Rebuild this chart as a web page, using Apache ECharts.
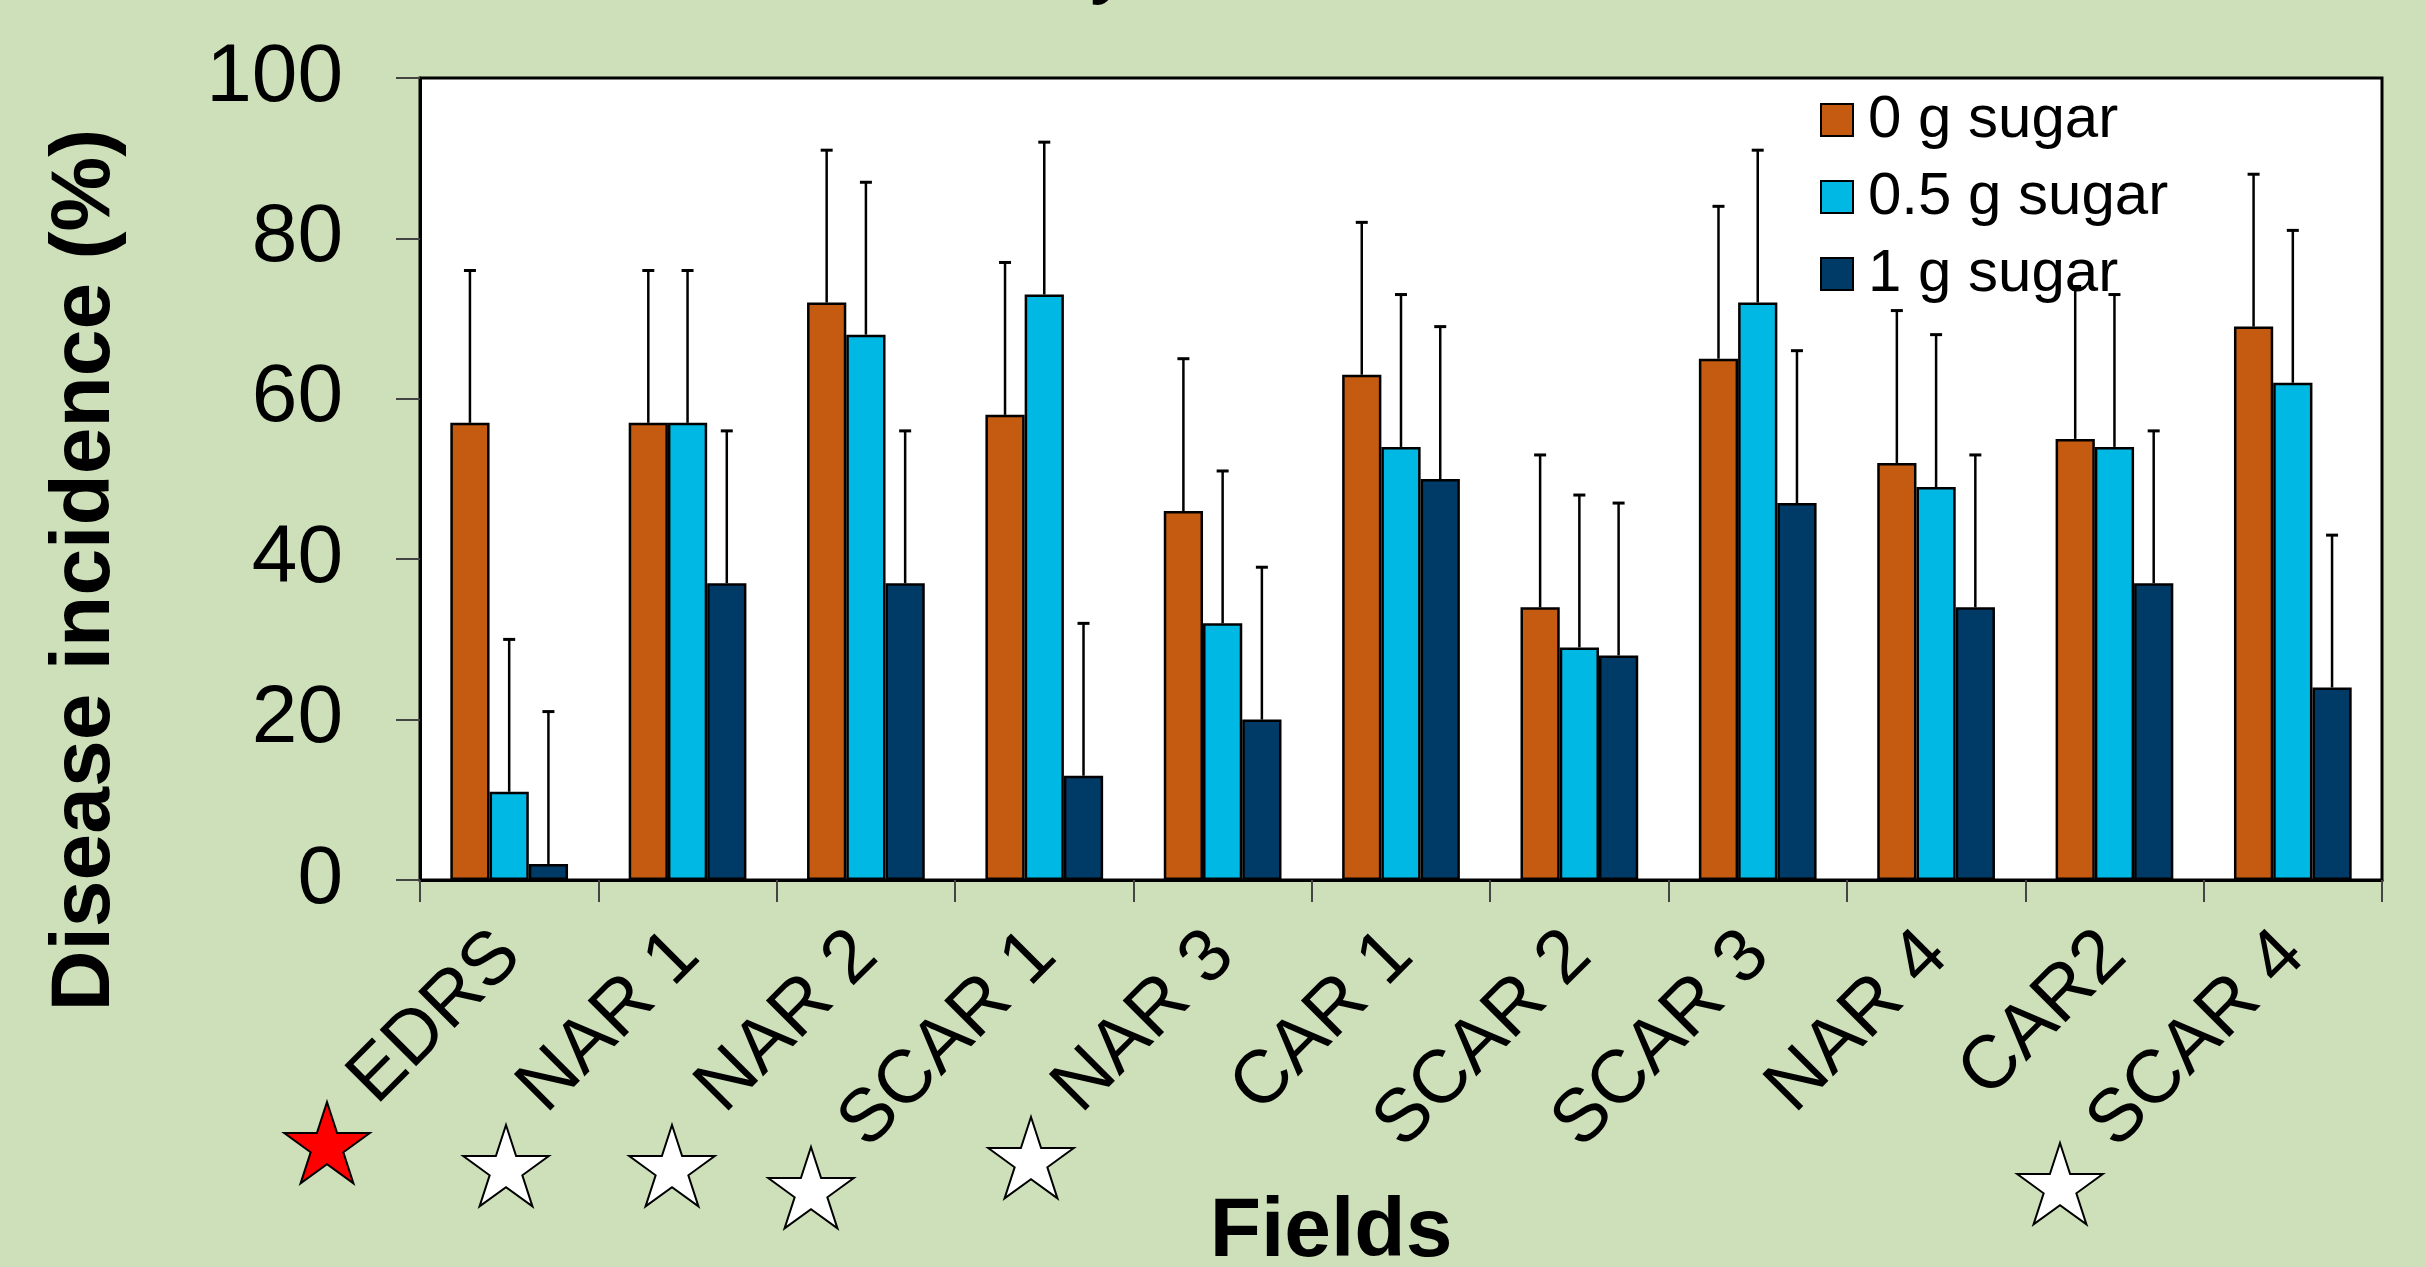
<!DOCTYPE html>
<html>
<head>
<meta charset="utf-8">
<script src="https://cdn.jsdelivr.net/npm/echarts@6/dist/echarts.min.js"></script>
<style>
  html, body { margin: 0; padding: 0; background: #CDE0BA; }
  #chart { width: 2426px; height: 1267px; }
</style>
</head>
<body>
<div id="chart"></div>
<script>
// ---- data ----
const fields = ['EDRS', 'NAR 1', 'NAR 2', 'SCAR 1', 'NAR 3', 'CAR 1', 'SCAR 2', 'SCAR 3', 'NAR 4', 'CAR2', 'SCAR 4'];
const seriesNames = ['0 g sugar', '0.5 g sugar', '1 g sugar'];
const sugar0  = [57, 57, 72, 58, 46, 63, 34, 65, 52, 55, 69];
const sugar05 = [11, 57, 68, 73, 32, 54, 29, 72, 49, 54, 62];
const sugar1  = [2, 37, 37, 13, 20, 50, 28, 47, 34, 37, 24];
const err0  = [19, 19, 19, 19, 19, 19, 19, 19, 19, 19, 19];
const err05 = [19, 19, 19, 19, 19, 19, 19, 19, 19, 19, 19];
const err1  = [19, 19, 19, 19, 19, 19, 19, 19, 19, 19, 19];
const yTicks = [0, 20, 40, 60, 80, 100];
const yTitle = 'Disease incidence (%)';
const xTitle = 'Fields';
const starFields = ['EDRS', 'NAR 1', 'NAR 2', 'SCAR 1', 'NAR 3', 'SCAR 4'];
const starFills  = ['#FF0000', '#FFFFFF', '#FFFFFF', '#FFFFFF', '#FFFFFF', '#FFFFFF'];

// ---- styling / layout ----
const colors = ['#C55A11', '#00B8E4', '#003B68'];
const FONT = "'Liberation Sans', Arial, sans-serif";
const CAT_GAP = 0.34;
const starPos = { // annotation positions (px)
  'EDRS': [327, 1147], 'NAR 1': [506, 1170], 'NAR 2': [672, 1170],
  'SCAR 1': [811, 1192], 'NAR 3': [1031, 1162], 'SCAR 4': [2060, 1188]
};

function starPoints(cx, cy, R, r) {
  const pts = [];
  for (let i = 0; i < 10; i++) {
    const a = -Math.PI / 2 + i * Math.PI / 5;
    const rad = i % 2 === 0 ? R : r;
    pts.push([cx + rad * Math.cos(a), cy + rad * Math.sin(a)]);
  }
  return pts;
}

const values = [sugar0, sugar05, sugar1];
const errs = [err0, err05, err1];

const barSeries = seriesNames.map((name, i) => ({
  name: name,
  type: 'bar',
  data: values[i],
  barGap: '0%',
  barCategoryGap: (CAT_GAP * 100) + '%',
  itemStyle: { color: colors[i], borderColor: '#000', borderWidth: 2.5 },
  z: 2
}));

const errSeries = seriesNames.map((name, i) => ({
  name: 'err-' + name,
  type: 'custom',
  z: 3,
  silent: true,
  data: values[i].map((v, k) => [k, v, errs[i][k]]),
  renderItem: function (params, api) {
    const ci = api.value(0), v = api.value(1), e = api.value(2);
    const base = api.coord([ci, v]);
    const top = api.coord([ci, v + e]);
    const bandW = api.size([1, 0])[0];
    const bw = bandW * (1 - CAT_GAP) / 3;
    const x = base[0] + (i - 1) * bw;
    return {
      type: 'group',
      children: [
        { type: 'line', shape: { x1: x, y1: base[1], x2: x, y2: top[1] }, style: { stroke: '#000', lineWidth: 2.5 } },
        { type: 'line', shape: { x1: x - 6, y1: top[1], x2: x + 6, y2: top[1] }, style: { stroke: '#000', lineWidth: 3 } }
      ]
    };
  }
}));

const graphics = [
  { type: 'text', x: 1090, y: -35, style: { text: 'y', font: '84px ' + FONT, fill: '#000', textAlign: 'left', textVerticalAlign: 'middle' } },
  { type: 'text', x: 86, y: 570, rotation: Math.PI / 2, style: { text: yTitle, font: 'bold 84px ' + FONT, fill: '#000', textAlign: 'center', textVerticalAlign: 'middle' } },
  { type: 'text', x: 1331, y: 1233, style: { text: xTitle, font: 'bold 84px ' + FONT, fill: '#000', textAlign: 'center', textVerticalAlign: 'middle' } }
];
starFields.forEach((f, i) => {
  const p = starPos[f];
  graphics.push({
    type: 'polygon',
    shape: { points: starPoints(p[0], p[1], 45, 17.2) },
    style: { fill: starFills[i], stroke: '#000', lineWidth: 2 }
  });
});

const chart = echarts.init(document.getElementById('chart'), null, { renderer: 'canvas' });
chart.setOption({
  backgroundColor: '#CDE0BA',
  animation: false,
  textStyle: { fontFamily: FONT },
  grid: {
    left: 420, top: 78, width: 1962, height: 802,
    show: true, backgroundColor: '#FFFFFF', borderColor: '#000', borderWidth: 3,
    containLabel: false
  },
  legend: {
    data: seriesNames,
    orient: 'vertical',
    left: 1820, top: 90,
    padding: 0,
    itemWidth: 32, itemHeight: 32, itemGap: 17,
    icon: 'rect',
    itemStyle: { borderColor: '#000', borderWidth: 2 },
    textStyle: { fontSize: 60, lineHeight: 60, color: '#000', fontFamily: FONT, padding: [0, 0, 0, 10] }
  },
  xAxis: {
    type: 'category',
    data: fields,
    axisLine: { show: true, lineStyle: { color: '#000', width: 3 } },
    axisTick: { show: true, length: 22, lineStyle: { color: '#444', width: 2 } },
    axisLabel: { interval: 0, rotate: 45, margin: 64, fontSize: 75, color: '#000', fontFamily: FONT, hideOverlap: false },
    splitLine: { show: false }
  },
  yAxis: {
    type: 'value',
    min: yTicks[0], max: yTicks[yTicks.length - 1], interval: yTicks[1] - yTicks[0],
    axisLine: { show: true, lineStyle: { color: '#000', width: 3 } },
    axisTick: { show: true, length: 24, lineStyle: { color: '#444', width: 2 } },
    axisLabel: { margin: 77, fontSize: 82, color: '#000', fontFamily: FONT },
    splitLine: { show: false }
  },
  series: barSeries.concat(errSeries),
  graphic: graphics
});
</script>
</body>
</html>
